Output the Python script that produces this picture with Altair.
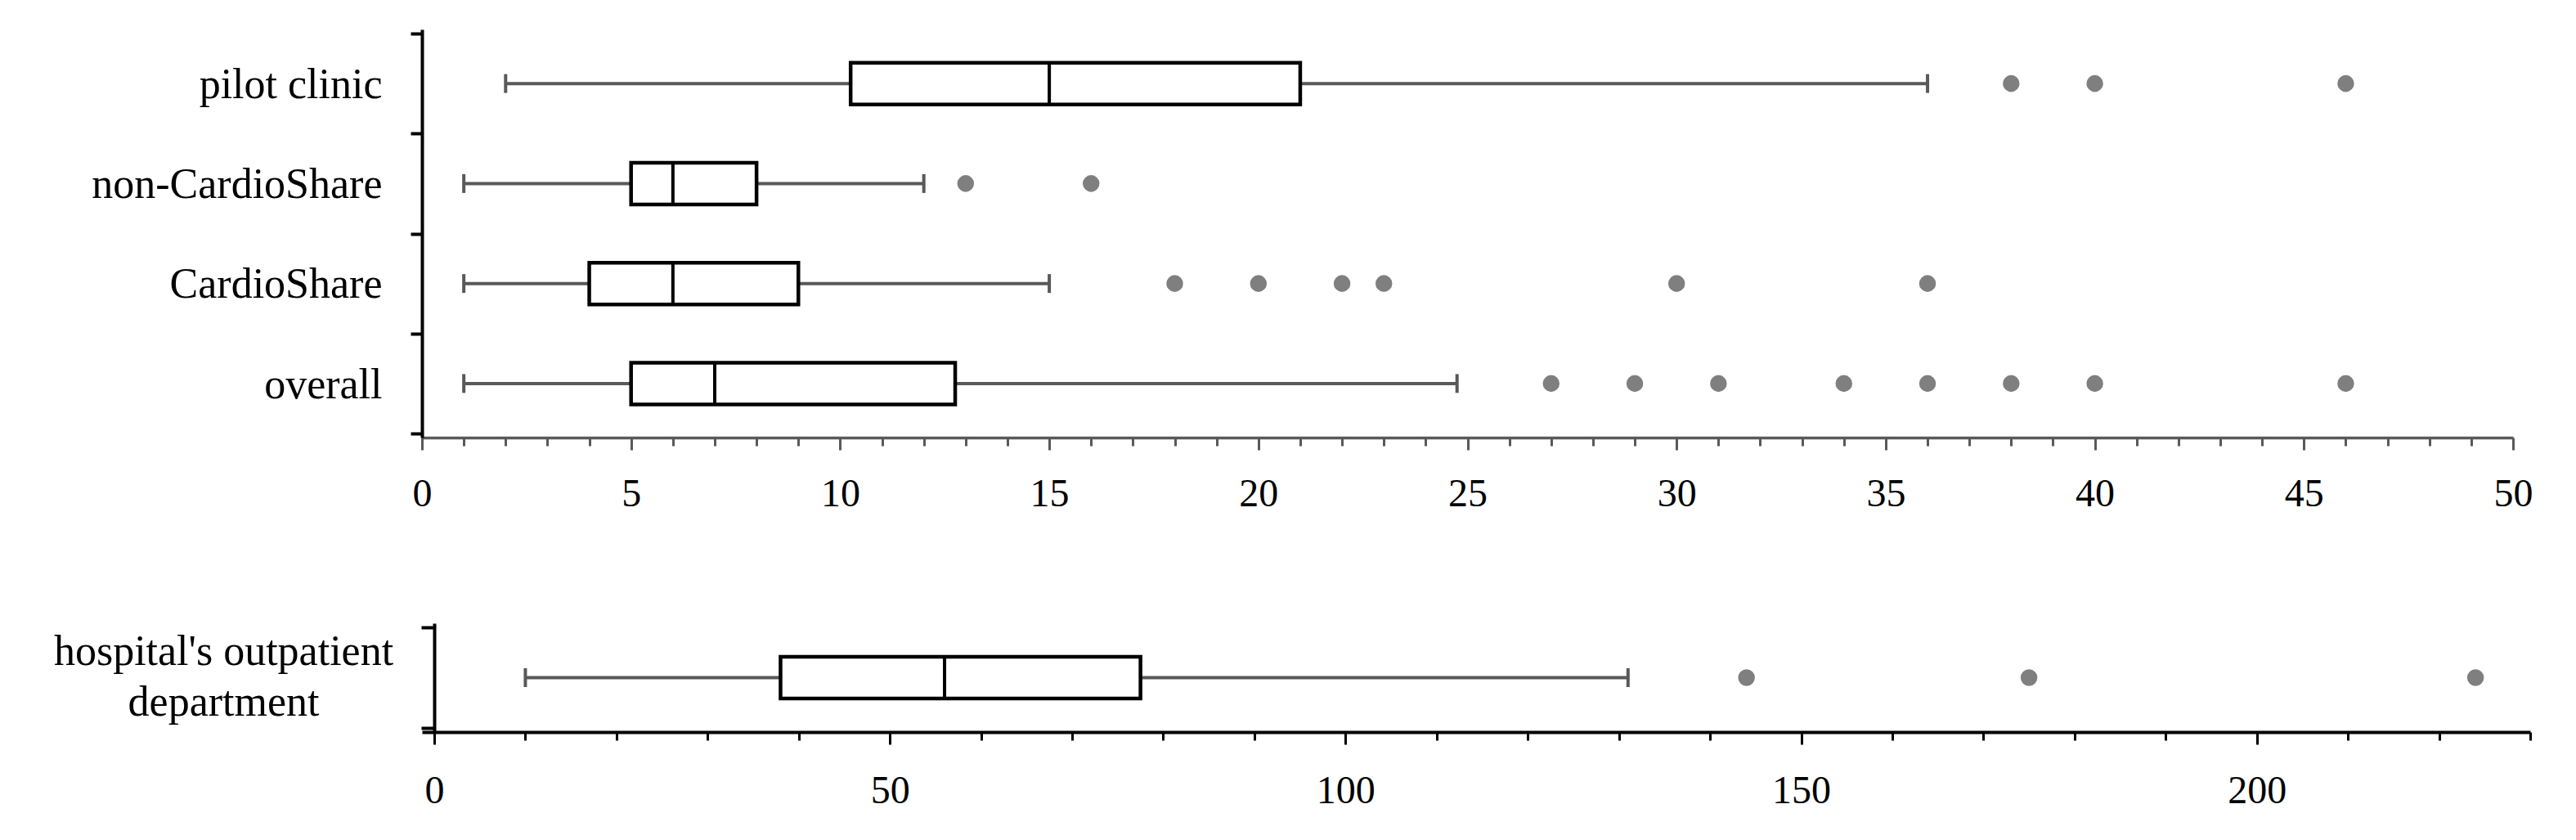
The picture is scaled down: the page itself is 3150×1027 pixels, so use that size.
import json
import altair as alt
import pandas as pd

# ---------------- data ----------------
categories = ["pilot clinic", "non-CardioShare", "CardioShare", "overall"]
whisker_low = [2, 1, 1, 1]
q1 = [10.25, 5, 4, 5]
median = [15, 6, 6, 7]
q3 = [21, 8, 9, 12.75]
whisker_high = [36, 12, 15, 24.75]
outliers = [
    [38, 40, 46],
    [13, 16],
    [18, 20, 22, 23, 30, 36],
    [27, 29, 31, 34, 36, 38, 40, 46],
]

hosp_label_lines = ["hospital's outpatient", "department"]
hosp_low = [10]
hosp_q1 = [38]
hosp_median = [56]
hosp_q3 = [77.5]
hosp_high = [131]
hosp_outliers = [[144, 175, 224]]

top_ticks = list(range(0, 51))
bottom_ticks = list(range(0, 231, 10))

FONT = "Liberation Serif"
WHISKER = "#595959"
DOT = "#7f7f7f"


def summary_frame(names, lo, a, m, b, hi):
    n = len(names)
    return pd.DataFrame({
        "name": names,
        "pos": [n - 1 - i for i in range(n)],
        "lo": lo, "q1": a, "med": m, "q3": b, "hi": hi,
    })


def outlier_frame(names, outs):
    n = len(names)
    rows = []
    for i, vals in enumerate(outs):
        for v in vals:
            rows.append({"pos": n - 1 - i, "v": v})
    return pd.DataFrame(rows)


def caps_frame(df):
    return pd.DataFrame({
        "pos": list(df["pos"]) + list(df["pos"]),
        "v": list(df["lo"]) + list(df["hi"]),
    })


def label_expr(names):
    n = len(names)
    expr = "''"
    for i, nm in enumerate(names):
        pos = n - 1 - i + 0.5
        expr = f"datum.value === {pos} ? {json.dumps(nm)} : ({expr})"
    return expr


def build(df, out_df, x_def, y_def, box_size, median_size):
    caps = caps_frame(df)
    whisk = alt.Chart(df).mark_rule(color=WHISKER, strokeWidth=4).encode(
        x=x_def("lo"), x2="hi:Q", y=y_def())
    capm = alt.Chart(caps).mark_tick(orient="vertical", size=23, thickness=4,
                                     color=WHISKER, opacity=1).encode(
        x=x_def("v"), y=y_def())
    box = alt.Chart(df).mark_bar(size=box_size, fill="white", stroke="black",
                                 strokeWidth=4.5, orient="horizontal").encode(
        x=x_def("q1"), x2="q3:Q", y=y_def())
    med = alt.Chart(df).mark_tick(orient="vertical", size=median_size, thickness=4,
                                  color="black", opacity=1).encode(
        x=x_def("med"), y=y_def())
    dots = alt.Chart(out_df).mark_circle(size=420, color=DOT, opacity=1).encode(
        x=x_def("v"), y=y_def())
    return alt.layer(whisk, capm, box, med, dots)


# ---------------- top chart ----------------
top_df = summary_frame(categories, whisker_low, q1, median, q3, whisker_high)
top_out = outlier_frame(categories, outliers)
n_top = len(categories)


def x_top(field):
    return alt.X(f"{field}:Q", title=None,
                 scale=alt.Scale(domain=[0, 50], nice=False, zero=False),
                 axis=alt.Axis(values=top_ticks,
                               labelExpr="datum.value % 5 === 0 ? datum.label : ''",
                               tickSize={"condition": {"test": "datum.value % 5 === 0", "value": 15}, "value": 10},
                               tickColor=WHISKER, tickWidth=3,
                               domainColor=WHISKER, domainWidth=3.5,
                               labelFont=FONT, labelFontSize=48, labelColor="black",
                               labelPadding=30, labelFlush=False, labelOverlap=False,
                               grid=False))


def y_top():
    return alt.Y("pos:Q", title=None,
                 scale=alt.Scale(domain=[-0.5, n_top - 0.5], nice=False, zero=False),
                 axis=alt.Axis(values=[p + 0.5 for p in range(-1, n_top)],
                               labelExpr=label_expr(categories),
                               labelOffset=499 / n_top / 2,
                               tickSize=14, tickWidth=4, tickColor="black",
                               domainColor="black", domainWidth=4,
                               labelFont=FONT, labelFontSize=52, labelColor="black",
                               labelLimit=2000,
                               labelPadding=35, labelOverlap=False, grid=False))


top = build(top_df, top_out, x_top, y_top, 51, 54).properties(width=2557, height=499)

# ---------------- bottom chart ----------------
hosp_name = " ".join(hosp_label_lines)
bot_df = summary_frame([hosp_name], hosp_low, hosp_q1, hosp_median, hosp_q3, hosp_high)
bot_out = outlier_frame([hosp_name], hosp_outliers)

BOT_W = 2578
SHIFT = 15
bot_min = -SHIFT * 230 / (BOT_W - SHIFT)


def x_bot(field):
    return alt.X(f"{field}:Q", title=None,
                 scale=alt.Scale(domain=[bot_min, 230], nice=False, zero=False),
                 axis=alt.Axis(values=bottom_ticks,
                               labelExpr="datum.value % 50 === 0 ? datum.label : ''",
                               tickSize={"condition": {"test": "datum.value % 50 === 0", "value": 15}, "value": 10},
                               tickColor="black", tickWidth=3,
                               domainColor="black", domainWidth=4,
                               labelFont=FONT, labelFontSize=48, labelColor="black",
                               labelPadding=33, labelFlush=False, labelOverlap=False,
                               grid=False))


bot_label = "datum.value === 0.5 ? " + json.dumps(hosp_label_lines) + " : ''"


def y_bot():
    return alt.Y("pos:Q", title=None,
                 scale=alt.Scale(domain=[-0.5, 0.5], nice=False, zero=False),
                 axis=alt.Axis(values=[-0.5, 0.5],
                               labelExpr=bot_label,
                               labelOffset=133 / 2 - 37,
                               offset=-SHIFT,
                               tickSize=16, tickWidth=4, tickColor="black",
                               domainColor="black", domainWidth=4,
                               labelFont=FONT, labelFontSize=52, labelColor="black",
                               labelAlign="center", labelLineHeight=62,
                               labelLimit=2000,
                               labelPadding=242, labelOverlap=False, grid=False))


bottom = build(bot_df, bot_out, x_bot, y_bot, 51, 54).properties(width=BOT_W, height=133)

chart = alt.vconcat(top, bottom, spacing=134).properties(
    padding={"left": 57, "top": 28, "right": 10, "bottom": 10},
    background="white",
).configure_view(strokeWidth=0)

chart.save("out.html", embed_options={"renderer": "svg", "actions": False})
